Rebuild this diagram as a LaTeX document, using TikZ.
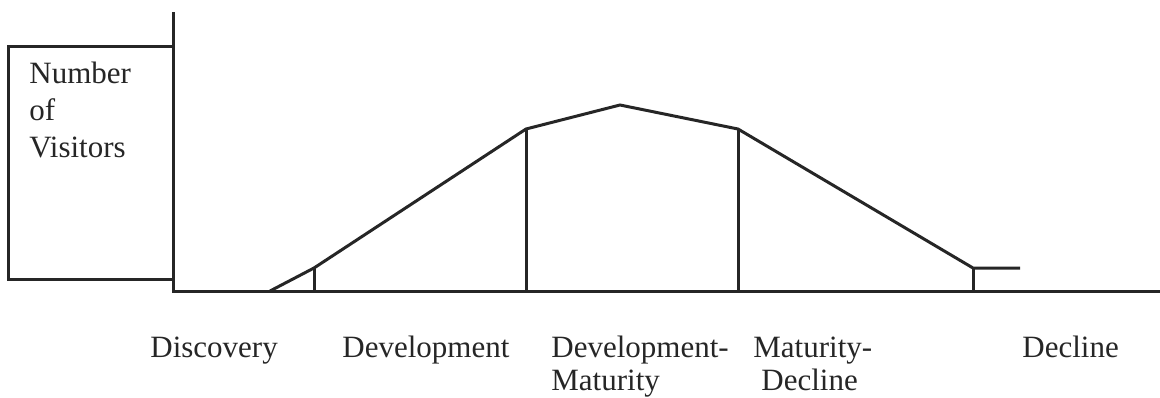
\documentclass[tikz,border=0pt]{standalone}
\usepackage{fontspec}
\setmainfont{Liberation Serif}
\begin{document}
\begin{tikzpicture}[x=0.5pt, y=-0.5pt,
    axis/.style={line width=1.5pt, black!85},
    curveline/.style={line width=1.5pt, black!85},
    stagetext/.style={anchor=base west, inner sep=0pt, align=left, text=black!85,
      font=\fontsize{15.5}{16.5}\selectfont},
    ytext/.style={anchor=base west, inner sep=0pt, align=left, text=black!85,
      font=\fontsize{15.5}{18.5}\selectfont}
  ]
  \useasboundingbox (0,0) rectangle (1160,397);
  % Axes
  \coordinate (top) at (173,12);
  \coordinate (origin) at (173,291);
  \coordinate (right) at (1160,291);
  \draw[axis] (top) -- (origin) -- (right);
  % Label box
  \coordinate (boxtl) at (8,46);
  \coordinate (boxbr) at (173,279);
  \draw[axis] (boxtl) rectangle (boxbr);
  \node[ytext] (visitors) at (29,157) {Number\\of\\Visitors};
  % Curve points
  \coordinate (p0) at (270,291);
  \coordinate (p1) at (314,268);
  \coordinate (p2) at (526,129);
  \coordinate (p3) at (620,105);
  \coordinate (p4) at (738,129);
  \coordinate (p5) at (973,268);
  \coordinate (p6) at (1020,268);
  \draw[curveline] (p0) -- (p1) -- (p2) -- (p3) -- (p4) -- (p5) -- (p6);
  % Stage dividers
  \foreach \p in {1,2,4,5}
    \draw[curveline] (p\p) -- (p\p |- origin);
  % Stage names
  \node[stagetext] (discovery) at (150,357) {Discovery};
  \node[stagetext] (development) at (342,357) {Development};
  \node[stagetext] (devmat) at (551,390) {Development-\\Maturity};
  \node[stagetext] (matdec) at (753,390) {Maturity-\\\hspace{4pt}Decline};
  \node[stagetext] (decline) at (1022,357) {Decline};
\end{tikzpicture}
\end{document}
